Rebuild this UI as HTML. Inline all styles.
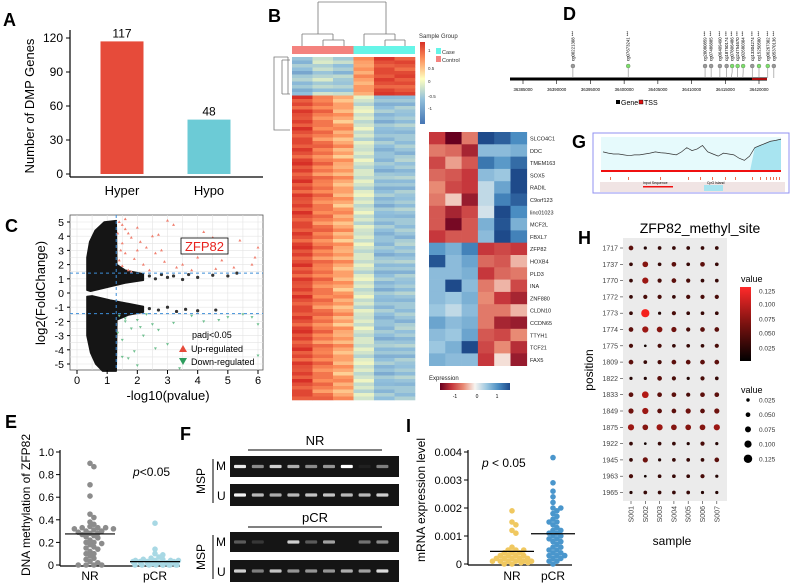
<!DOCTYPE html>
<html><head><meta charset="utf-8"><style>
body{margin:0;background:#fff}
svg{display:block;font-family:"Liberation Sans",Arial,sans-serif}
</style></head><body>
<svg id="fig" width="790" height="585" viewBox="0 0 790 585" xmlns="http://www.w3.org/2000/svg">
<defs id="defs"></defs>
<g font-weight="bold" font-size="18" fill="#000">
<text x="3" y="26">A</text>
<text x="268" y="22">B</text>
<text x="5" y="232">C</text>
<text x="563" y="20">D</text>
<text x="5" y="428">E</text>
<text x="180" y="440">F</text>
<text x="572" y="148">G</text>
<text x="578" y="244">H</text>
<text x="406" y="432">I</text>
</g>
<g id="A"></g>
<g id="B"></g>
<g id="C"></g>
<g id="D"></g>
<g id="G"></g>
<g id="H"></g>
<g id="E"></g>
<g id="F"></g>
<g id="I"></g>
</svg>
<script>
// ---------- data ----------
const aCats=["Hyper","Hypo"];
const aVals=[117,48];
const aTicks=[0,30,60,90,120];

const bHeatGenes=["SLCO4C1","DDC","TMEM163","SOX5","RADIL","C9orf123","linc01023","MCF2L","FBXL7","ZFP82","HOXB4","PLD3","INA","ZNF880","CLDN10","CCDN65","TTYH1","TCF21","FAX5"];
const bHeatVals=[[-1,-1.8,-0.6,1.6,1.4,1.0],[-0.6,-0.7,-1.2,0.6,0.6,0.7],[-0.9,-0.4,-0.8,1.2,0.9,1.3],[-0.7,-0.8,-1.0,0.6,0.5,1.8],[-0.5,-0.9,-1.0,0.3,0.8,1.9],[-0.6,-0.2,-1.3,0.3,1.1,1.4],[-0.8,-1.2,-0.9,0.2,1.7,1.0],[-0.8,-1.5,-0.8,0.7,1.5,0.7],[-1.0,-0.8,-0.8,0.6,1.7,1.1],[0.9,0.7,1.1,-1.0,-0.9,-1.0],[1.5,0.6,0.8,-0.7,-0.8,-0.3],[0.6,0.6,0.7,-1.0,-0.7,-0.6],[0.6,1.6,0.6,-0.6,-0.3,-0.9],[0.6,0.5,0.7,-0.5,-1.0,-1.2],[0.5,0.3,0.6,-0.6,-0.6,-0.3],[0.8,0.6,0.7,-0.6,-1.2,-1.3],[0.6,0.5,0.8,-0.8,-0.9,-0.5],[0.5,0.7,1.7,-0.9,-0.5,-1.1],[0.7,0.6,0.6,-1.0,-0.1,-1.3]];
const bTopBase=[-0.6,-0.4,-0.5,0.5,1.0,0.95];
const bMainBase=[1.0,0.7,0.45,-0.25,-0.6,-0.55];
const bRowVar=[0.05,-0.1,0.15,0,-0.2,0.1,0.2,-0.05,0.1,-0.15,0,0.2,-0.1,0.05,-0.2,0.15,0,-0.05,0.1,-0.1,0.2,0,-0.15,0.05];

const cUp=[[1.4,5.0],[1.5,4.8],[1.6,4.5],[1.7,4.2],[1.8,3.9],[2.0,4.6],[2.1,3.6],[2.3,3.2],[2.5,4.0],[2.6,2.8],[3.0,5.1],[3.2,4.8],[2.8,3.0],[1.5,3.5],[1.6,2.8],[1.9,2.4],[2.2,2.0],[1.5,1.9],[1.7,1.6],[2.4,1.6],[3.5,2.0],[4.0,2.5],[4.2,4.3],[4.5,3.9],[4.8,2.3],[5.2,1.8],[5.4,3.7],[5.8,2.0],[6.0,3.2],[5.9,2.5],[3.8,1.6],[4.6,1.7],[1.8,1.5],[2.9,2.2],[3.3,1.8],[1.4,2.3],[1.35,4.2],[1.45,3.0],[2.7,4.1],[2.0,3.0],[1.6,5.2],[3.9,3.4]];
const cDown=[[1.4,-1.6],[1.6,-2],[1.8,-2.5],[2.0,-1.9],[2.2,-3],[2.5,-2.2],[1.5,-3.3],[1.7,-4.6],[2.0,-5.1],[1.9,-4.1],[2.7,-2.6],[3.0,-3.6],[3.4,-5.3],[4.2,-2.0],[4.7,-1.9],[5.0,-1.7],[5.5,-1.5],[5.8,-1.7],[6.0,-2.2],[6.0,-4.4],[2.3,-1.5],[3.8,-1.6],[1.35,-2.8],[1.5,-4.5],[2.6,-3.9],[3.2,-2.1],[1.6,-1.8],[2.1,-2.4]];
const cUpperCloud=[[0.33,0.2],[0.33,2.5],[0.42,3.6],[0.6,4.4],[0.9,5.0],[1.3,5.1],[1.32,2.0],[1.6,1.6],[2.2,1.35],[2.2,0.9],[1.6,0.7],[1.3,0.55],[0.8,0.3],[0.45,0.12]];
const cLowerCloud=[[0.33,-0.25],[0.33,-3.0],[0.45,-4.2],[0.62,-5.0],[0.85,-5.5],[1.3,-5.5],[1.32,-1.9],[1.7,-1.55],[2.2,-1.35],[2.2,-0.95],[1.6,-0.7],[1.1,-0.5],[0.5,-0.2]];
const cBandDots=[[2.4,1.2],[2.6,1.0],[2.8,1.3],[3.0,1.1],[3.2,1.2],[3.5,0.95],[3.7,1.3],[4.0,1.1],[4.5,1.25],[5.0,1.2],[5.3,1.4],[2.4,-1.1],[2.7,-1.2],[3.0,-1.0],[3.3,-1.3],[3.6,-1.15],[4.0,-1.25],[4.6,-1.2]];
const cXTicks=[0,1,2,3,4,5,6];
const cYTicks=[5,4,3,2,1,0,-1,-2,-3,-4,-5];

const dSites=["cg00221308","cg07673241","cg20080859","cg07486885","cg06409490","cg18750174","cg07806486","cg24754670","cg02680304","cg13304274","cg15250580","cg06267302","cg05370136"];
const dPos=[36392400,36400600,36412000,36412900,36414200,36415200,36415900,36416800,36417600,36419000,36420000,36421300,36422200];
const dGreen=[0,1,0,0,0,0,1,1,1,0,1,1,0];
const dTicks=[36385000,36390000,36395000,36400000,36405000,36410000,36415000,36420000];

const gGC=[45,42,40,40,38,36,38,38,40,42,45,43,42,40,38,45,55,48,52,60,45,40,35,42,40,38,30,25,35,55,60,65,70,72,75];

const hRows=["1717","1737","1770","1772","1773","1774","1775","1809","1822","1833","1849","1875","1922","1945","1963","1965"];
const hCols=["S001","S002","S003","S004","S005","S006","S007"];
const hVals=[[0.05,0.02,0.03,0.03,0.03,0.03,0.03],[0.03,0.07,0.03,0.05,0.03,0.05,0.03],[0.03,0.08,0.04,0.05,0.04,0.03,0.03],[0.03,0.04,0.04,0.03,0.04,0.04,0.04],[0.03,0.12,0.02,0.04,0.03,0.03,0.03],[0.05,0.08,0.07,0.06,0.04,0.05,0.05],[0.04,0.01,0.04,0.03,0.03,0.03,0.04],[0.05,0.03,0.04,0.05,0.05,0.05,0.05],[0.02,0.02,0.05,0.04,0.02,0.04,0.03],[0.05,0.09,0.05,0.05,0.04,0.05,0.05],[0.06,0.08,0.05,0.05,0.06,0.05,0.06],[0.08,0.07,0.08,0.07,0.07,0.07,0.08],[0.03,0.01,0.03,0.03,0.02,0.04,0.02],[0.03,0.06,0.02,0.03,0.03,0.03,0.05],[0.04,0.01,0.03,0.03,0.03,0.04,0.02],[0.02,0.03,0.03,0.03,0.03,0.02,0.02]];
const hLegend=[0.025,0.05,0.075,0.1,0.125];

const eNR=[0.9,0.87,0.71,0.61,0.45,0.42,0.38,0.36,0.34,0.33,0.33,0.33,0.32,0.32,0.31,0.3,0.3,0.29,0.28,0.28,0.27,0.26,0.25,0.24,0.22,0.2,0.2,0.19,0.18,0.16,0.15,0.14,0.12,0.1,0.1,0.08,0.06,0.05,0.03,0.02,0,0,0,0];
const ePCR=[0.37,0.14,0.1,0.09,0.07,0.06,0.05,0.05,0.04,0.04,0.04,0.04,0.03,0.03,0.03,0.03,0.03,0.02,0.02,0.02,0.02,0.01,0.01,0.01,0.01,0,0,0,0,0,0,0,0,0,0];
const eMedians=[0.275,0.03];
const eTicks=[0,0.2,0.4,0.6,0.8,1.0];

const fNRM=[0.9,0.5,0.8,0.65,0.5,0.55,1,0.05,0.45];
const fNRU=[0.95,0.7,0.65,0.7,0.75,0.75,0.7,0.7,0.8];
const fPCRM=[0.3,0.15,0,0.8,0.3,0.6,0,0.4,0.5];
const fPCRU=[0.8,0.45,0.75,0.55,0.55,0.55,0.65,0.6,0.85];

const iNR=[0.0019,0.0015,0.0014,0.0012,0.0011,0.0006,0.0005,0.0005,0.0005,0.0004,0.0004,0.0004,0.0003,0.0003,0.0003,0.0003,0.0002,0.0002,0.0002,0.0002,0.0002,0.0001,0.0001,0.0001,0.0001,0.0001,0.0001,0.00005,0.00005,0,0];
const iPCR=[0.0038,0.0029,0.0026,0.0024,0.0022,0.002,0.002,0.0019,0.0018,0.0017,0.0016,0.0015,0.0015,0.0014,0.0013,0.0012,0.0012,0.0011,0.0011,0.001,0.001,0.0009,0.0009,0.0008,0.0008,0.0007,0.0006,0.0006,0.0005,0.0005,0.0004,0.0004,0.0003,0.0003,0.0003,0.0002,0.0002,0.0001,0.0001,0];
const iMedians=[0.00045,0.00108];
const iTicks=[0,0.001,0.002,0.003,0.004];

// ---------- helpers ----------
const NS="http://www.w3.org/2000/svg";
const defs=document.getElementById('defs');
function mk(parent,tag,attrs,txt){const e=document.createElementNS(NS,tag);for(const k in attrs)e.setAttribute(k,attrs[k]);if(txt!==undefined)e.textContent=txt;parent.appendChild(e);return e;}
function lin(d0,d1,r0,r1){return v=>r0+(v-d0)*(r1-r0)/(d1-d0);}
function lerpC(a,b,t){return "rgb("+a.map((x,i)=>Math.round(x+(b[i]-x)*t)).join(",")+")";}
function ramp(stops,v){
 if(v<=stops[0][0])return lerpC(stops[0][1],stops[0][1],0);
 for(let i=1;i<stops.length;i++){if(v<=stops[i][0]){const t=(v-stops[i-1][0])/(stops[i][0]-stops[i-1][0]);return lerpC(stops[i-1][1],stops[i][1],t);}}
 const l=stops[stops.length-1][1];return lerpC(l,l,0);}

// ---------- Panel A ----------
(function(){const g=document.getElementById('A');
 const y=lin(0,120,174,38);const xs=[122,209];
 mk(g,'line',{x1:70,y1:30,x2:70,y2:177,stroke:'#000','stroke-width':1.2});
 mk(g,'line',{x1:70,y1:177,x2:263,y2:177,stroke:'#000','stroke-width':1.2});
 aTicks.forEach(t=>{mk(g,'line',{x1:66,y1:y(t),x2:70,y2:y(t),stroke:'#000'});
  const tl=mk(g,'text',{x:63,y:y(t)+4,'font-size':12,'text-anchor':'end'},t);
  });
 const cols=['#E64B3A','#6CCBD6'];
 aVals.forEach((v,i)=>{const r=mk(g,'rect',{x:xs[i]-21.5,y:y(v),width:43,height:y(0)-y(v),fill:cols[i]});
  
  const t=mk(g,'text',{x:xs[i],y:y(v)-4,'font-size':12,'text-anchor':'middle'},v);
  
  const c=mk(g,'text',{x:xs[i],y:195,'font-size':13,'text-anchor':'middle'},aCats[i]);
  });
 const yt=mk(g,'text',{x:34,y:106,'font-size':13,'text-anchor':'middle',transform:'rotate(-90 34 106)'},'Number of DMP Genes');
 
})();

// ---------- Panel B ----------
(function(){const g=document.getElementById('B');
 const bStops=[[-1.2,[69,117,180]],[-0.6,[145,191,219]],[0,[255,255,191]],[0.6,[252,141,89]],[1.2,[215,48,39]]];
 const x0=292,cw=20.5;
 mk(g,'path',{d:'M318,2 V34 M386,2 V34 M318,2 H386 M302,34 H333 M302,34 V46 M333,34 V40 M323,40 H344 M323,40 V46 M344,40 V46 M364,34 H395 M364,34 V46 M395,34 V40 M385,40 H405 M385,40 V46 M405,40 V46',fill:'none',stroke:'#777','stroke-width':0.8});
 mk(g,'path',{d:'M288,57 H274 V130 H290 M274,57 V60 M288,57 V94 M282,94 H290 M282,60 H290 M282,60 V94',fill:'none',stroke:'#777','stroke-width':0.8});
 const sb1=mk(g,'rect',{x:x0,y:46,width:cw*3,height:8,fill:'#F4827E'});
 const sb2=mk(g,'rect',{x:x0+cw*3,y:46,width:cw*3,height:8,fill:'#66F5E8'});
 const rowH=3.5;let yy=57;let ri=0;
 while(yy<400){const base=yy<93?bTopBase:bMainBase;
  for(let c=0;c<6;c++){const v=base[c]+bRowVar[(ri+c*5)%bRowVar.length]*(c<3?1:0.8);
   const r=mk(g,'rect',{x:x0+c*cw,y:yy,width:cw+0.3,height:rowH+0.3,fill:ramp(bStops,v)});
   }
  yy+=rowH;ri++;}
 const lg=mk(defs,'linearGradient',{id:'bgrad',x1:0,y1:1,x2:0,y2:0});
 [['0',[69,117,180]],['0.3',[145,191,219]],['0.55',[255,255,191]],['0.8',[252,141,89]],['1',[215,48,39]]].forEach(s=>mk(lg,'stop',{offset:s[0],'stop-color':lerpC(s[1],s[1],0)}));
 mk(g,'rect',{x:420,y:42,width:5,height:82,fill:'url(#bgrad)'});
 [['1',52],['0.5',70],['0',83],['-0.5',98],['-1',110]].forEach(t=>mk(g,'text',{x:428,y:t[1],'font-size':4.5,fill:'#333'},t[0]));
 mk(g,'text',{x:419,y:38,'font-size':6,fill:'#333'},'Sample Group');
 mk(g,'rect',{x:436,y:48,width:5,height:6,fill:'#66F5E8'});mk(g,'rect',{x:436,y:56,width:5,height:6,fill:'#F4827E'});
 mk(g,'text',{x:442,y:54,'font-size':5.5,fill:'#333'},'Case');mk(g,'text',{x:442,y:62,'font-size':5.5,fill:'#333'},'Control');
 const hStops=[[-1.6,[103,0,31]],[-1,[198,55,60]],[-0.5,[232,138,116]],[0,[247,244,240]],[0.5,[156,199,224]],[1,[74,141,194]],[1.6,[30,74,138]]];
 const sx=429,sy=132,scw=16.3,srh=12.3;
 bHeatGenes.forEach((gn,r)=>{bHeatVals[r].forEach((v,c)=>{const rc=mk(g,'rect',{x:sx+c*scw,y:sy+r*srh,width:scw+0.3,height:srh+0.3,fill:ramp(hStops,v)});
   });
  const t=mk(g,'text',{x:530,y:sy+r*srh+8.5,'font-size':5.5,fill:'#222'},gn);});
 mk(g,'text',{x:429,y:380,'font-size':6,fill:'#222'},'Expression');
 const lg2=mk(defs,'linearGradient',{id:'egrad',x1:0,y1:0,x2:1,y2:0});
 hStops.forEach((s,i)=>mk(lg2,'stop',{offset:i/(hStops.length-1),'stop-color':lerpC(s[1],s[1],0)}));
 mk(g,'rect',{x:440,y:383,width:70,height:7,fill:'url(#egrad)'});
 [['-1',455],['0',477],['1',497]].forEach(t=>mk(g,'text',{x:t[1],y:398,'font-size':5,'text-anchor':'middle'},t[0]));
})();

// ---------- Panel C ----------
(function(){const g=document.getElementById('C');
 const x=lin(0,6,77,258),y=lin(0,5,293,222);
 mk(g,'rect',{x:70,y:215,width:193,height:155,fill:'#fff',stroke:'#555','stroke-width':0.8});
 for(let v=0;v<=6;v+=0.5)mk(g,'line',{x1:x(v),y1:215,x2:x(v),y2:370,stroke:'#e4e4e4','stroke-width':0.6});
 for(let v=-5;v<=5;v+=0.5)mk(g,'line',{x1:70,y1:y(v),x2:263,y2:y(v),stroke:'#e4e4e4','stroke-width':0.6});
 [cUpperCloud,cLowerCloud].forEach((poly,i)=>{const p=mk(g,'polygon',{points:poly.map(p=>x(p[0])+','+y(p[1])).join(' '),fill:'#151515','stroke':'#151515','stroke-width':1.5,'stroke-linejoin':'round'});
  });
 cBandDots.forEach(p=>{const c=mk(g,'circle',{cx:x(p[0]),cy:y(p[1]),r:1.6,fill:'#333'});});
 cUp.forEach(p=>{const px=x(p[0]),py=y(p[1]);const t=mk(g,'polygon',{points:`${px},${py-1.6} ${px-1.5},${py+1} ${px+1.5},${py+1}`,fill:'#F08070'});
  });
 cDown.forEach(p=>{const px=x(p[0]),py=y(p[1]);const t=mk(g,'polygon',{points:`${px},${py+1.6} ${px-1.5},${py-1} ${px+1.5},${py-1}`,fill:'#70C090'});
  });
 [1.4,-1.45].forEach(v=>mk(g,'line',{x1:70,y1:y(v),x2:263,y2:y(v),stroke:'#3C8DD8','stroke-width':1,'stroke-dasharray':'3,3'}));
 mk(g,'line',{x1:x(1.3),y1:215,x2:x(1.3),y2:370,stroke:'#3C8DD8','stroke-width':1,'stroke-dasharray':'3,3'});
 cXTicks.forEach(t=>{mk(g,'line',{x1:x(t),y1:370,x2:x(t),y2:374,stroke:'#000'});
  const l=mk(g,'text',{x:x(t),y:384,'font-size':11,'text-anchor':'middle'},t);});
 cYTicks.forEach(t=>{mk(g,'line',{x1:67,y1:y(t),x2:70,y2:y(t),stroke:'#000'});
  const l=mk(g,'text',{x:64,y:y(t)+4,'font-size':10.5,'text-anchor':'end'},t);});
 const bx=mk(g,'rect',{x:181,y:238,width:47,height:16,fill:'#fff',stroke:'#000','stroke-width':0.8});
 mk(g,'text',{x:204.5,y:251,'font-size':13,'text-anchor':'middle',fill:'#E8231E'},'ZFP82');
 mk(g,'text',{x:192,y:338,'font-size':9},'padj<0.05');
 mk(g,'polygon',{points:'183,345 179,352 187,352',fill:'#E64B3A'});
 mk(g,'text',{x:191,y:352,'font-size':9},'Up-regulated');
 mk(g,'polygon',{points:'183,365 179,358 187,358',fill:'#2E9D5E'});
 mk(g,'text',{x:191,y:365,'font-size':9},'Down-regulated');
 const xt=mk(g,'text',{x:168,y:400,'font-size':13,'text-anchor':'middle'},'-log10(pvalue)');
 const yt=mk(g,'text',{x:45,y:293,'font-size':13,'text-anchor':'middle',transform:'rotate(-90 45 293)'},'log2(FoldChange)');
})();

// ---------- Panel D ----------
(function(){const g=document.getElementById('D');
 const x=lin(36385000,36420000,523,759);
 const ln=mk(g,'line',{x1:510,y1:79,x2:767,y2:79,stroke:'#000','stroke-width':3});
 mk(g,'line',{x1:752,y1:79,x2:767,y2:79,stroke:'#E01010','stroke-width':1.5});
 dTicks.forEach(t=>{mk(g,'line',{x1:x(t),y1:80,x2:x(t),y2:84,stroke:'#000','stroke-width':0.6});
  const l=mk(g,'text',{x:x(t),y:91,'font-size':4.3,'text-anchor':'middle'},t);});
 let lastX=-99;
 dSites.forEach((s,i)=>{let hx=x(dPos[i]);if(hx<lastX+5.5)hx=lastX+5.5;lastX=hx;const ax=x(dPos[i]);
  mk(g,'path',{d:`M${hx},66 V72 L${ax},78`,fill:'none',stroke:'#888','stroke-width':0.6});
  const c=mk(g,'circle',{cx:hx,cy:66,r:2,fill:dGreen[i]?'#7CE06A':'#999',stroke:'#555','stroke-width':0.3});
  
  mk(g,'text',{x:hx+1.5,y:61,'font-size':4.3,transform:`rotate(-90 ${hx+1.5} 61)`},s+' ***');});
 mk(g,'rect',{x:616,y:100,width:4,height:4,fill:'#000'});mk(g,'text',{x:621,y:105,'font-size':7},'Gene');
 mk(g,'rect',{x:639,y:100,width:4,height:4,fill:'#E01010',stroke:'#000','stroke-width':0.4});mk(g,'text',{x:644,y:105,'font-size':7},'TSS');
})();

// ---------- Panel G ----------
(function(){const g=document.getElementById('G');
 mk(g,'rect',{x:593,y:133,width:196,height:60,fill:'#fff',stroke:'#9090F0','stroke-width':1});
 mk(g,'rect',{x:601,y:137,width:180,height:34,fill:'#E6FAFC'});
 const x=lin(0,gGC.length-1,603,781),y=lin(0,80,171,137);
 const isl=gGC.map((v,i)=>[x(i),y(v)]).filter(p=>p[0]>=750);
 mk(g,'polygon',{points:'750,171 '+isl.map(p=>p.join(',')).join(' ')+' 781,171',fill:'#A8E4F0'});
 const pl=mk(g,'polyline',{points:gGC.map((v,i)=>x(i)+','+y(v)).join(' '),fill:'none',stroke:'#333','stroke-width':0.7});
 
 mk(g,'line',{x1:601,y1:171,x2:781,y2:171,stroke:'#F01010','stroke-width':2});
 mk(g,'rect',{x:600,y:182,width:185,height:10,fill:'#F0E4E4'});
 [610,628,660,688,700,712,725,735,752,760,766,770,773,776,779].forEach(px=>mk(g,'rect',{x:px,y:177,width:1,height:3,fill:'#F07050'}));
 mk(g,'text',{x:643,y:184,'font-size':3.5},'Input Sequence');mk(g,'rect',{x:643,y:186,width:30,height:1.5,fill:'#F01010'});
 mk(g,'rect',{x:704,y:185,width:19,height:6,fill:'#A8E4F0'});mk(g,'text',{x:707,y:184,'font-size':3.5},'CpG Island');
})();

// ---------- Panel H ----------
(function(){const g=document.getElementById('H');
 mk(g,'rect',{x:623,y:238,width:104,height:263,fill:'#EBEBEB'});
 const t=mk(g,'text',{x:700,y:233,'font-size':14,'text-anchor':'middle'},'ZFP82_methyl_site');
 const cx=i=>631+i*14.3,ry=i=>248+i*16.3;
 const col=v=>ramp([[0,[0,0,0]],[0.06,[110,18,14]],[0.125,[255,35,30]]],v);
 const rad=v=>1.1+v*25;
 hRows.forEach((r,i)=>{mk(g,'line',{x1:620,y1:ry(i),x2:623,y2:ry(i),stroke:'#333','stroke-width':0.6});
  const l=mk(g,'text',{x:618,y:ry(i)+2.5,'font-size':7,'text-anchor':'end',fill:'#444'},r);
  hVals[i].forEach((v,j)=>{const c=mk(g,'circle',{cx:cx(j),cy:ry(i),r:rad(v),fill:col(v)});});});
 hCols.forEach((c,j)=>{mk(g,'line',{x1:cx(j),y1:501,x2:cx(j),y2:504,stroke:'#333','stroke-width':0.6});
  const l=mk(g,'text',{x:cx(j)+2.5,y:506,'font-size':7,'text-anchor':'end',fill:'#444',transform:`rotate(-90 ${cx(j)+2.5} 506)`},c);});
 mk(g,'text',{x:672,y:545,'font-size':12,'text-anchor':'middle'},'sample');
 mk(g,'text',{x:593,y:370,'font-size':12,'text-anchor':'middle',transform:'rotate(-90 593 370)'},'position');
 mk(g,'text',{x:741,y:282,'font-size':9},'value');
 const lg=mk(defs,'linearGradient',{id:'hgrad',x1:0,y1:1,x2:0,y2:0});
 mk(lg,'stop',{offset:0,'stop-color':'#000'});mk(lg,'stop',{offset:0.5,'stop-color':'#7A1210'});mk(lg,'stop',{offset:1,'stop-color':'#FF2A2A'});
 mk(g,'rect',{x:740,y:287,width:11,height:74,fill:'url(#hgrad)'});
 [[0.125,291],[0.1,304],[0.075,319],[0.05,333],[0.025,348]].forEach(p=>mk(g,'text',{x:759,y:p[1]+2.5,'font-size':6.5,fill:'#333'},p[0].toFixed(3)));
 mk(g,'text',{x:741,y:393,'font-size':9},'value');
 hLegend.forEach((v,i)=>{const yy=400+i*14.7;mk(g,'circle',{cx:748,cy:yy,r:rad(v),fill:'#000'});mk(g,'text',{x:759,y:yy+2.5,'font-size':6.5,fill:'#333'},v.toFixed(3));});
})();

// ---------- beeswarm (bounded width) ----------
function swarm(g,vals,cxp,y,r,fill,name,halfW){const placed=[];const sp=r*1.55;
 vals.forEach(v=>{const py=y(v);let k=0,px=cxp;
  while(true){const off=(k%2?1:-1)*Math.ceil(k/2)*sp*0.9;px=cxp+off;
   if(Math.abs(off)>halfW){px=cxp+((placed.length*7)%(2*halfW))-halfW;break;}
   if(placed.every(p=>(p[0]-px)**2+(p[1]-py)**2>=sp*sp))break;k++;}
  placed.push([px,py]);});
 placed.forEach(p=>{const c=mk(g,'circle',{cx:p[0],cy:p[1],r:r,fill:fill});});}

// ---------- Panel E ----------
(function(){const g=document.getElementById('E');
 const y=lin(0,1,565,452);const xs=[90,155];
 mk(g,'line',{x1:60,y1:450,x2:60,y2:566,stroke:'#000','stroke-width':1.2});
 mk(g,'line',{x1:60,y1:566,x2:180,y2:566,stroke:'#000','stroke-width':1.2});
 eTicks.forEach(t=>{mk(g,'line',{x1:56,y1:y(t),x2:60,y2:y(t),stroke:'#000'});
  const l=mk(g,'text',{x:54,y:y(t)+4,'font-size':11,'text-anchor':'end'},t===0?'0':t.toFixed(1));});
 swarm(g,eNR,xs[0],y,2.8,'#8C8C8C','nr-point',24);swarm(g,ePCR,xs[1],y,2.8,'#A8D8E4','pcr-point',24);
 eMedians.forEach((m,i)=>mk(g,'line',{x1:xs[i]-25,y1:y(m),x2:xs[i]+25,y2:y(m),stroke:'#000','stroke-width':1.2}));
 ['NR','pCR'].forEach((c,i)=>mk(g,'text',{x:xs[i],y:580,'font-size':12,'text-anchor':'middle'},c));
 const p=mk(g,'text',{x:133,y:476,'font-size':12},'');mk(p,'tspan',{'font-style':'italic'},'p');mk(p,'tspan',{},'<0.05');
 mk(g,'text',{x:30,y:505,'font-size':12,'text-anchor':'middle',transform:'rotate(-90 30 505)'},'DNA methylation of ZFP82');
})();

// ---------- Panel F ----------
(function(){const g=document.getElementById('F');
 const gels=[[fNRM,456,21],[fNRU,484,22],[fPCRM,532,20],[fPCRU,560,22]];
 const lane=i=>240+i*17.8;
 gels.forEach(gl=>{const r=mk(g,'rect',{x:230,y:gl[1],width:169,height:gl[2],fill:'#151515'});
  gl[0].forEach((v,i)=>{if(v<=0)return;const b=mk(g,'rect',{x:lane(i)-6,y:gl[1]+gl[2]/2-1.6,width:12,height:3.2,rx:1,fill:'#fff','fill-opacity':v});
   });});
 mk(g,'text',{x:315,y:445,'font-size':13,'text-anchor':'middle'},'NR');mk(g,'line',{x1:248,y1:450,x2:382,y2:450,stroke:'#000'});
 mk(g,'text',{x:315,y:522,'font-size':13,'text-anchor':'middle'},'pCR');mk(g,'line',{x1:248,y1:527,x2:382,y2:527,stroke:'#000'});
 [[456,506],[532,582]].forEach(p=>{mk(g,'line',{x1:213,y1:p[0]+3,x2:213,y2:p[1]-3,stroke:'#000'});
  mk(g,'text',{x:216,y:p[0]+14,'font-size':12},'M');mk(g,'text',{x:217,y:p[1]-6,'font-size':12},'U');
  const cy=(p[0]+p[1])/2;mk(g,'text',{x:205,y:cy,'font-size':12,'text-anchor':'middle',transform:`rotate(-90 205 ${cy})`},'MSP');});
})();

// ---------- Panel I ----------
(function(){const g=document.getElementById('I');
 const y=lin(0,0.004,564,452);const xs=[512,553];
 mk(g,'line',{x1:468,y1:450,x2:468,y2:565,stroke:'#000','stroke-width':1.2});
 mk(g,'line',{x1:468,y1:565,x2:572,y2:565,stroke:'#000','stroke-width':1.2});
 iTicks.forEach(t=>{mk(g,'line',{x1:464,y1:y(t),x2:468,y2:y(t),stroke:'#000'});
  const l=mk(g,'text',{x:462,y:y(t)+4,'font-size':11,'text-anchor':'end'},t===0?'0':t.toFixed(3));});
 swarm(g,iNR,xs[0],y,2.8,'#F0C860','nr-point',20);swarm(g,iPCR,xs[1],y,2.8,'#4A96CC','pcr-point',18);
 iMedians.forEach((m,i)=>mk(g,'line',{x1:xs[i]-22,y1:y(m),x2:xs[i]+22,y2:y(m),stroke:'#000','stroke-width':1.2}));
 ['NR','pCR'].forEach((c,i)=>mk(g,'text',{x:xs[i],y:580,'font-size':12,'text-anchor':'middle'},c));
 const p=mk(g,'text',{x:482,y:467,'font-size':12},'');mk(p,'tspan',{'font-style':'italic'},'p');mk(p,'tspan',{},' < 0.05');
 mk(g,'text',{x:425,y:500,'font-size':12,'text-anchor':'middle',transform:'rotate(-90 425 500)'},'mRNA expression level');
})();
</script>
</body></html>
